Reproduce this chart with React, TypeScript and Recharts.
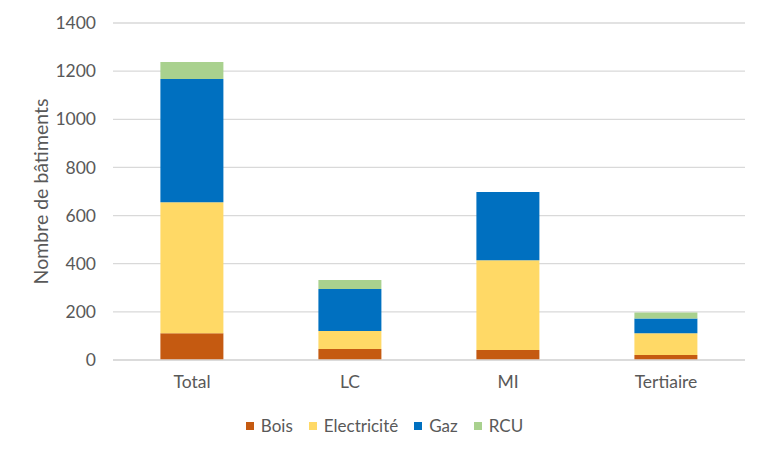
import React from 'react';
import { BarChart, Bar, XAxis, YAxis, CartesianGrid } from 'recharts';

const categories = ['Total', 'LC', 'MI', 'Tertiaire'];
const bois = [111, 46, 42, 21];
const electricite = [544, 74, 372, 90];
const gaz = [512, 175, 284, 61];
const rcu = [71, 37, 0, 25];
const yTicks = [0, 200, 400, 600, 800, 1000, 1200, 1400];

const seriesNames = ['Bois', 'Electricité', 'Gaz', 'RCU'];
const seriesColors = ['#C55A11', '#FFD966', '#0070C0', '#A9D18E'];

const data = categories.map((c, i) => ({
  name: c,
  Bois: bois[i],
  'Electricité': electricite[i],
  Gaz: gaz[i],
  RCU: rcu[i],
}));

const FONT = 'Lato, "Open Sans", sans-serif';
const TEXT = '#595959';

const LegendRow = () => (
  <div
    style={{
      position: 'absolute',
      left: 0,
      top: 415,
      width: 769,
      display: 'flex',
      justifyContent: 'center',
      fontFamily: FONT,
      fontSize: 17,
      lineHeight: '22px',
      color: TEXT,
    }}
  >
    {seriesNames.map((n, i) => (
      <div key={n} style={{ display: 'flex', alignItems: 'center', marginLeft: i === 0 ? 0 : 16 }}>
        <span style={{ width: 8, height: 8, background: seriesColors[i], display: 'inline-block', marginRight: 7 }} />
        <span>{n}</span>
      </div>
    ))}
  </div>
);

export default function App() {
  return (
    <div style={{ position: 'absolute', left: 0, top: 0, width: 769, height: 456, background: '#fff' }}>
      <BarChart
        width={769}
        height={456}
        data={data}
        margin={{ top: 23, right: 24, left: 0, bottom: 66 }}
        barCategoryGap="30%"
      >
        <CartesianGrid vertical={false} stroke="#D9D9D9" strokeWidth={1.3} />
        <XAxis
          dataKey="name"
          axisLine={{ stroke: '#D9D9D9', strokeWidth: 1.3 }}
          tickLine={false}
          tick={{ fill: TEXT, fontSize: 17.5, fontFamily: FONT }}
          tickMargin={10}
          height={30}
        />
        <YAxis
          width={113}
          domain={[0, 1400]}
          ticks={yTicks}
          axisLine={false}
          tickLine={false}
          tickMargin={11}
          tick={{ fill: TEXT, fontSize: 17.5, fontFamily: FONT }}
          label={{
            value: 'Nombre de bâtiments',
            angle: -90,
            position: 'insideLeft',
            offset: 41,
            style: { fill: TEXT, fontSize: 19.5, fontFamily: FONT, textAnchor: 'middle' },
          }}
        />
        {seriesNames.map((n, i) => (
          <Bar key={n} dataKey={n} stackId="a" fill={seriesColors[i]} isAnimationActive={false} />
        ))}
      </BarChart>
      <LegendRow />
    </div>
  );
}
